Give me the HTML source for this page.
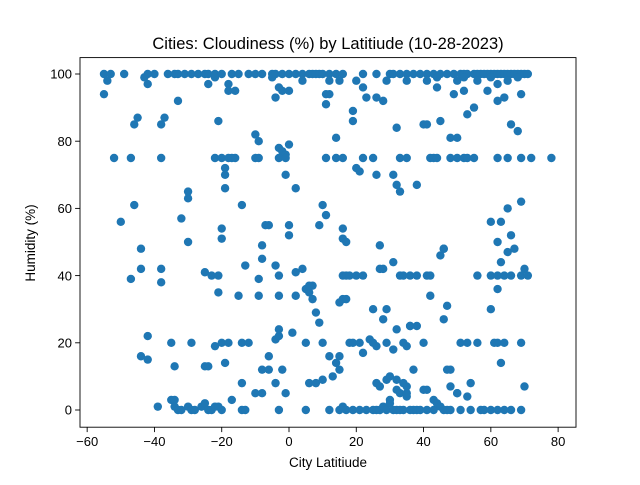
<!DOCTYPE html>
<html><head><meta charset="utf-8"><style>
body{margin:0;background:#fff;}
svg text{font-family:"Liberation Sans","DejaVu Sans",sans-serif;fill:#000;}
</style></head><body>
<svg id="chart" width="640" height="480" xmlns="http://www.w3.org/2000/svg">
<rect width="640" height="480" fill="#fff"/>
<text x="328" y="49" font-size="16.5" text-anchor="middle">Cities: Cloudiness (%) by Latitiude (10-28-2023)</text>
<g id="marks"></g>
<g id="axes"></g>
<text x="328" y="467" font-size="13.5" text-anchor="middle">City Latitiude</text>
<text transform="translate(35,243) rotate(-90)" font-size="13.5" text-anchor="middle">Humidity (%)</text>
</svg>
<script>
const xTicks=[-60,-40,-20,0,20,40,60,80];
const yTicks=[0,20,40,60,80,100];
const lat=[
-55,-53,-49,-40,-42,-36,-34,-33,-31,-29,-27,-25,-24,-22,-20,-17,-15,-12,-10,-8,-5,-4,-2,0,2,4,6,7,8,9,10,12,14,16,22,26,30,31,33,35,37,39,41,43,45,47,49,51,52,53,55,56,57,58,59,60,61,62,63,64,65,66,67,68,69,70,71,
-54,-43,-42,-24,-22,-18,-5,-3,4,12,15,20,22,29,35,41,44,50,52,56,60,62,65,68,
-55,-18,-16,-4,-2,0,11,44,49,52,59,64,69,62,
-33,23,26,28,
-46,-45,-38,-37,-21,-10,-9,-3,-2,-1,0,11,12,14,19,19,32,40,41,45,48,50,53,55,66,68,
-52,-47,-38,-22,-20,-18,-17,-16,-10,-9,-3,-1,11,14,16,22,25,33,35,42,43,44,48,50,52,53,55,62,65,69,72,78,20,-19,
-19,-1,21,26,31,32,33,38,
-30,-30,-19,2,
-46,-14,10,11,60,63,65,66,69,65,67,
-50,-32,-7,-6,0,9,16,27,
-30,-20,-20,0,16,17,46,-8,62,
-44,-44,-25,-23,-21,-13,-4,-3,-8,-9,2,7,5,6,7,4,6,16,17,18,20,22,16,17,15,27,28,31,33,34,36,38,41,42,45,46,56,60,62,64,66,69,70,71,62,63,
-47,-38,-38,-21,-15,-9,-3,2,
8,9,25,28,29,36,42,46,47,38,
-42,-35,-29,-22,-20,-18,-14,-12,-8,-6,-4,-3,-3,1,5,10,12,14,15,18,19,21,22,24,25,26,29,31,32,34,35,36,40,48,51,53,54,56,62,64,69,60,61,63,
-44,-42,-34,-25,-24,-19,-14,-6,-2,13,15,26,29,30,27,32,35,34,37,40,41,47,48,50,53,43,
-39,-35,-34,-34,-33,-32,-30,-29,-28,-26,-25,-24,-23,-22,-21,-20,-17,-14,-13,-10,-8,-4,-1,-3,5,6,8,10,12,15,16,17,19,21,23,25,26,27,28,29,30,31,32,33,34,35,36,37,38,39,41,43,44,45,46,47,48,50,51,54,57,58,60,62,64,66,69,70,30,32,33,35
];
const cloud=[
100,100,100,100,100,100,100,100,100,100,100,100,100,100,100,100,100,100,100,100,100,100,100,100,100,100,100,100,100,100,100,100,100,100,100,100,100,100,100,100,100,100,100,100,100,100,100,100,100,100,100,100,100,100,100,100,100,100,100,100,100,100,100,100,100,100,100,
98,99,97,97,99,97,99,96,98,98,98,98,96,98,98,98,99,98,99,98,99,97,98,99,
94,95,95,93,95,95,94,96,94,95,95,93,94,92,
92,93,93,92,
85,87,85,87,86,82,80,78,77,76,79,91,94,81,86,89,84,85,85,86,81,81,88,90,85,83,
75,75,75,75,75,75,75,75,75,75,75,75,75,75,75,75,75,75,75,75,75,75,75,75,75,75,75,75,75,75,75,75,72,72,
70,70,71,70,70,67,65,67,
63,65,66,66,
61,61,61,58,56,56,60,52,62,47,48,
56,57,55,55,55,55,54,49,
50,54,51,52,51,50,48,49,50,
48,42,41,40,40,43,43,40,45,39,41,37,36,35,33,42,37,40,40,40,40,40,33,33,32,42,42,44,40,40,40,40,40,40,46,48,40,40,40,40,40,40,42,40,36,44,
39,42,38,35,34,34,34,34,
29,26,30,27,30,25,34,27,31,25,
22,20,20,19,20,20,20,20,12,16,21,22,24,23,20,20,16,14,16,20,20,20,17,21,20,19,20,18,24,20,19,25,20,12,20,20,8,20,20,20,20,30,20,14,
16,15,13,13,13,14,8,12,12,10,12,8,9,10,7,9,7,8,12,6,6,12,7,5,4,3,
1,3,3,1,0,0,1,0,0,1,2,0,0,1,1,0,3,0,0,5,5,8,5,0,0,8,8,9,0,0,1,0,0,0,0,0,0,0,1,0,3,0,0,0,0,4,0,0,0,0,0,0,2,1,0,0,0,5,0,0,0,0,0,0,0,0,0,7,2,6,5,5
];
const L=80,R=576,T=57.6,B=427.2;
const xs=v=>289+v*3.364;
const ys=v=>410-v*3.36;
const NS="http://www.w3.org/2000/svg";
const marks=document.getElementById('marks');
const n=Math.min(lat.length,cloud.length);
for(let i=0;i<n;i++){
 const c=document.createElementNS(NS,'circle');
 c.setAttribute('cx',xs(lat[i]));c.setAttribute('cy',ys(cloud[i]));
 c.setAttribute('r',4.2);c.setAttribute('fill','#1f77b4');
 
 
 marks.appendChild(c);
}
const axes=document.getElementById('axes');
const frame=document.createElementNS(NS,'rect');
frame.setAttribute('x',L);frame.setAttribute('y',T);frame.setAttribute('width',R-L);frame.setAttribute('height',B-T);
frame.setAttribute('fill','none');frame.setAttribute('stroke','#000');frame.setAttribute('stroke-width','0.9');


axes.appendChild(frame);
xTicks.forEach(t=>{
 const x=xs(t);
 const l=document.createElementNS(NS,'line');
 l.setAttribute('x1',x);l.setAttribute('x2',x);l.setAttribute('y1',B);l.setAttribute('y2',B+4.9);l.setAttribute('stroke','#000');l.setAttribute('stroke-width','0.9');
 
 
 axes.appendChild(l);
 const tx=document.createElementNS(NS,'text');
 tx.setAttribute('x',x);tx.setAttribute('y',B+19);tx.setAttribute('font-size','13');tx.setAttribute('text-anchor','middle');
 tx.textContent=t<0?'\u2212'+(-t):String(t);
 
 
 axes.appendChild(tx);
});
yTicks.forEach(t=>{
 const y=ys(t);
 const l=document.createElementNS(NS,'line');
 l.setAttribute('x1',L-4.9);l.setAttribute('x2',L);l.setAttribute('y1',y);l.setAttribute('y2',y);l.setAttribute('stroke','#000');l.setAttribute('stroke-width','0.9');
 
 
 axes.appendChild(l);
 const tx=document.createElementNS(NS,'text');
 tx.setAttribute('x',L-8);tx.setAttribute('y',y+4.7);tx.setAttribute('font-size','13');tx.setAttribute('text-anchor','end');
 tx.textContent=String(t);
 
 
 axes.appendChild(tx);
});
</script>
</body></html>
